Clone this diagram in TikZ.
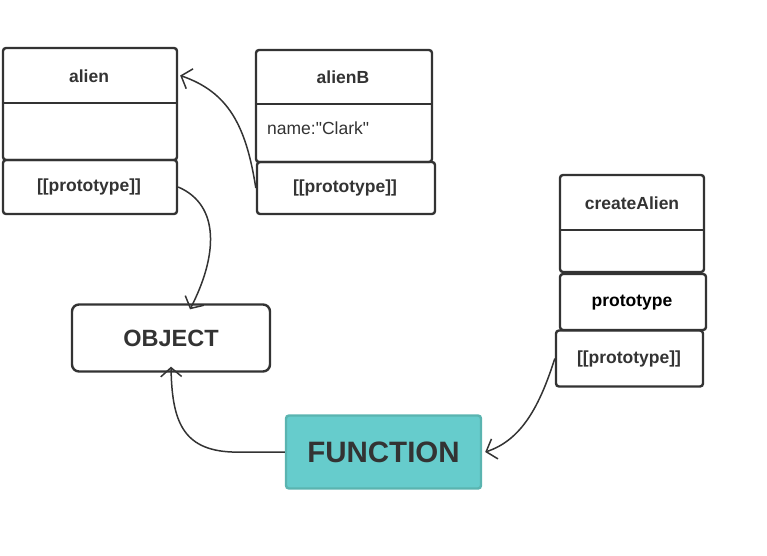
\documentclass[tikz,border=0pt]{standalone}
\usepackage{fontspec}
\setmainfont{Liberation Sans}
\newfontfamily\plainsans{Liberation Sans}
\usetikzlibrary{arrows.meta}
\definecolor{ink}{HTML}{333333}
\definecolor{teal1}{HTML}{66CCCC}
\definecolor{teal2}{HTML}{5AB4B0}
\tikzset{
  frame/.style={draw=ink, line width=2.4pt, rounded corners=3pt, inner sep=0pt},
  lbl/.style={inner sep=0pt, text=ink, font=\bfseries\fontsize{17.5}{20}\selectfont},
  divider/.style={draw=ink, line width=1.6pt},
  link/.style={draw=ink, line width=1.5pt, -{Straight Barb[length=9pt,width=21pt,line width=1.5pt]}},
}
\begin{document}
\begin{tikzpicture}[x=1pt,y=-1pt]
\useasboundingbox (0,0) rectangle (767,555);
% alien
\node[frame, minimum width=174pt, minimum height=112pt] (alien) at (90,104) {};
\node[inner sep=0, minimum width=174pt, minimum height=55pt] (alienhead) at (90,75.5) {};
\node[lbl] (alientxt) at (89,76) {alien};
\draw[divider] (alien.west |- 0,103) -- (alien.east |- 0,103);
\node[frame, minimum width=174pt, minimum height=54pt] (alienproto) at (90,187) {};
\node[lbl] (alienprototxt) at (89,187) {[[prototype]]};
% alienB
\node[frame, minimum width=176pt, minimum height=112pt] (alienB) at (344,106) {};
\node[lbl] (alienBtxt) at (343,77) {alienB};
\draw[divider] (alienB.west |- 0,104) -- (alienB.east |- 0,104);
\node[inner sep=0, anchor=west, text=ink, font=\plainsans\fontsize{17.5}{20}\selectfont] (clark) at (267,128) {name:"Clark"};
\node[frame, minimum width=178pt, minimum height=52pt] (alienBproto) at (346,188) {};
\node[lbl] (alienBprototxt) at (345,188) {[[prototype]]};
% createAlien
\node[frame, minimum width=144pt, minimum height=97pt] (cA) at (632,223.5) {};
\node[lbl] (cAtxt) at (632,203) {createAlien};
\draw[divider] (cA.west |- 0,230) -- (cA.east |- 0,230);
\node[frame, minimum width=146pt, minimum height=56pt] (cAproto) at (633,302) {};
\node[lbl, text=black] (cAprototxt) at (632,303) {prototype};
\node[frame, minimum width=147pt, minimum height=56pt] (cAiproto) at (629.5,358.5) {};
\node[lbl] (cAiprototxt) at (629,359) {[[prototype]]};
% OBJECT
\node[frame, rounded corners=7pt, minimum width=198pt, minimum height=67pt,
      text=ink, font=\bfseries\fontsize{23.5}{26}\selectfont] (object) at (171,338) {OBJECT};
\coordinate (objtop) at ([xshift=19pt,yshift=-6pt]object.north);
% FUNCTION
\node[draw=teal2, fill=teal1, line width=2.4pt, rounded corners=3pt, inner sep=0pt,
      minimum width=195pt, minimum height=73pt,
      text=ink, font=\bfseries\fontsize{29.5}{32}\selectfont] (function) at (383.5,452) {FUNCTION};
% connectors
\path[link] (alienBproto.west) .. controls (246,125) and (228,92) .. ([xshift=3pt]alienhead.east);
\path[link] (alienproto.east) .. controls (220,205) and (218,255) .. (objtop);
\path[link] (function.west) -- (232,452) .. controls (182,450) and (172,420) .. ([yshift=6pt]object.south);
\path[link] (cAiproto.west) .. controls (540,405) and (522,440) .. ([xshift=3pt]function.east);
\end{tikzpicture}
\end{document}
